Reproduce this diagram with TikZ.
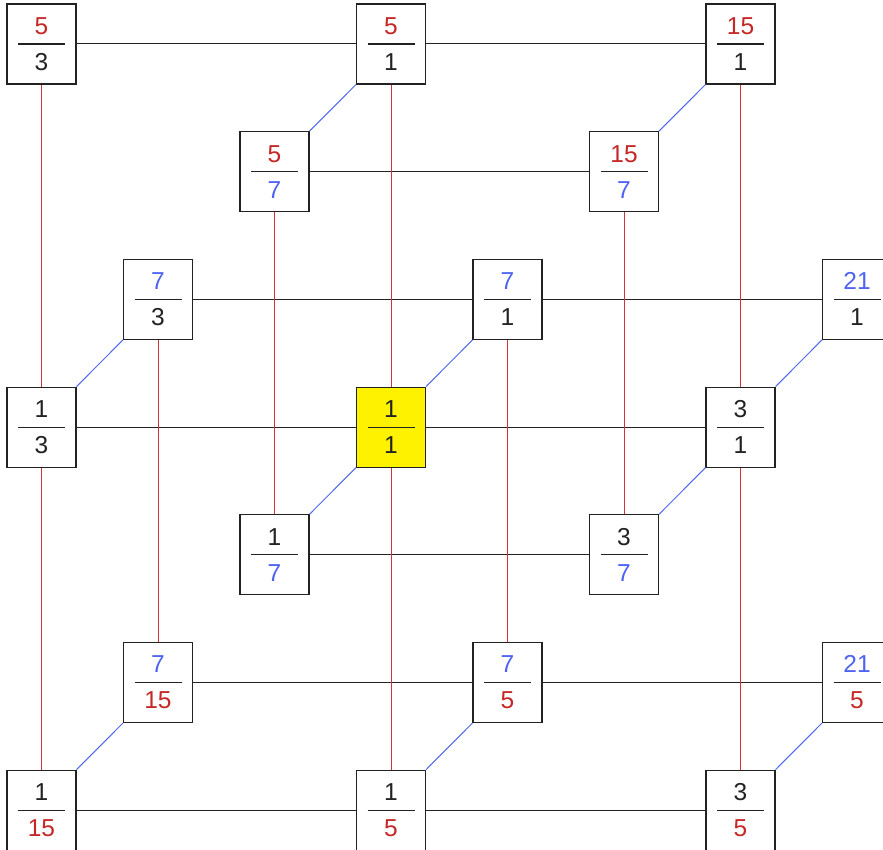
\documentclass[tikz,border=0pt]{standalone}
\usepackage{fontspec}
\setmainfont{Liberation Sans}
\usetikzlibrary{calc}

\definecolor{numred}{HTML}{C62828}
\definecolor{numblue}{HTML}{4F63F2}
\definecolor{linered}{HTML}{D0343A}
\definecolor{lineblue}{HTML}{5068F0}
\definecolor{ink}{HTML}{222222}
\newcommand{\rd}[1]{\textcolor{numred}{#1}}
\newcommand{\bl}[1]{\textcolor{numblue}{#1}}

\begin{document}
\begin{tikzpicture}[x=1pt, y=-1pt,
  frbox/.style={draw=ink, line width=1.1pt, fill=white, text=ink,
    minimum width=69pt, minimum height=80pt, inner sep=0pt, align=center,
    font=\fontsize{24.5}{36}\selectfont,
    path picture={\draw[ink, line width=1.1pt]
      ([xshift=11pt]path picture bounding box.west) --
      ([xshift=-11pt]path picture bounding box.east);}},
  hedge/.style={ink, line width=1pt},
  vedge/.style={linered, line width=1pt},
  dedge/.style={lineblue, line width=1pt}]
  \useasboundingbox (0,0) rectangle (883,850);

  % Top layer (numerator 5)
  \node[frbox] (n5o3) at (41.5,44) {\rd{5}\\3};
  \node[frbox] (n5o1) at (391,44) {\rd{5}\\1};
  \node[frbox] (n15o1) at (740.5,44) {\rd{15}\\1};
  \node[frbox] (n5o7) at (274.5,171.7) {\rd{5}\\\bl{7}};
  \node[frbox] (n15o7) at (624,171.7) {\rd{15}\\\bl{7}};

  % Middle layer
  \node[frbox] (n7o3) at (158,299.4) {\bl{7}\\3};
  \node[frbox] (n7o1) at (507.5,299.4) {\bl{7}\\1};
  \node[frbox] (n21o1) at (857,299.4) {\bl{21}\\1};
  \node[frbox] (n1o3) at (41.5,427.1) {1\\3};
  \node[frbox, fill=yellow] (n1o1) at (391,427.1) {1\\1};
  \node[frbox] (n3o1) at (740.5,427.1) {3\\1};
  \node[frbox] (n1o7) at (274.5,554.8) {1\\\bl{7}};
  \node[frbox] (n3o7) at (624,554.8) {3\\\bl{7}};

  % Bottom layer (denominator 5)
  \node[frbox] (n7o15) at (158,682.5) {\bl{7}\\\rd{15}};
  \node[frbox] (n7o5) at (507.5,682.5) {\bl{7}\\\rd{5}};
  \node[frbox] (n21o5) at (857,682.5) {\bl{21}\\\rd{5}};
  \node[frbox] (n1o15) at (41.5,810.2) {1\\\rd{15}};
  \node[frbox] (n1o5) at (391,810.2) {1\\\rd{5}};
  \node[frbox] (n3o5) at (740.5,810.2) {3\\\rd{5}};

  % Factor 3 (horizontal)
  \draw[hedge] (n5o3) -- (n5o1) -- (n15o1);
  \draw[hedge] (n5o7) -- (n15o7);
  \draw[hedge] (n7o3) -- (n7o1) -- (n21o1);
  \draw[hedge] (n1o3) -- (n1o1) -- (n3o1);
  \draw[hedge] (n1o7) -- (n3o7);
  \draw[hedge] (n7o15) -- (n7o5) -- (n21o5);
  \draw[hedge] (n1o15) -- (n1o5) -- (n3o5);

  % Factor 5 (vertical)
  \draw[vedge] (n5o3) -- (n1o3) -- (n1o15);
  \draw[vedge] (n5o1) -- (n1o1) -- (n1o5);
  \draw[vedge] (n15o1) -- (n3o1) -- (n3o5);
  \draw[vedge] (n5o7) -- (n1o7);
  \draw[vedge] (n15o7) -- (n3o7);
  \draw[vedge] (n7o3) -- (n7o15);
  \draw[vedge] (n7o1) -- (n7o5);

  % Factor 7 (diagonal)
  \draw[dedge] (n5o7.north east) -- (n5o1.south west);
  \draw[dedge] (n15o7.north east) -- (n15o1.south west);
  \draw[dedge] (n1o3.north east) -- (n7o3.south west);
  \draw[dedge] (n1o1.north east) -- (n7o1.south west);
  \draw[dedge] (n3o1.north east) -- (n21o1.south west);
  \draw[dedge] (n1o7.north east) -- (n1o1.south west);
  \draw[dedge] (n3o7.north east) -- (n3o1.south west);
  \draw[dedge] (n1o15.north east) -- (n7o15.south west);
  \draw[dedge] (n1o5.north east) -- (n7o5.south west);
  \draw[dedge] (n3o5.north east) -- (n21o5.south west);
\end{tikzpicture}
\end{document}
